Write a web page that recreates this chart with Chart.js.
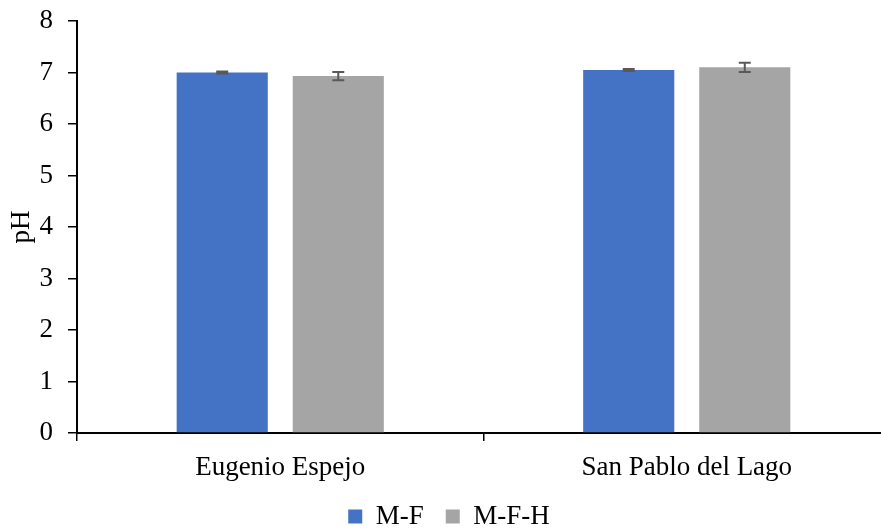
<!DOCTYPE html>
<html>
<head>
<meta charset="utf-8">
<script src="https://cdn.jsdelivr.net/npm/chart.js@4/dist/chart.umd.min.js"></script>
<style>
  html, body { margin: 0; padding: 0; background: #ffffff; overflow: hidden; }
  #wrap { width: 881px; height: 528px; overflow: hidden; position: relative; }
  #chart { position: absolute; left: 0; top: 0; }
</style>
</head>
<body>
<div id="wrap"><canvas id="chart" width="905" height="540"></canvas></div>
<script>
// Sites sampled and mean pH per treatment, with standard error
const sites = ["Eugenio Espejo", "San Pablo del Lago"];
const seriesNames = ["M-F", "M-F-H"];
const phMF = [7.00, 7.05];
const phMFH = [6.93, 7.10];
const errMF = [0.02, 0.02];
const errMFH = [0.08, 0.09];
const yTicks = [0, 1, 2, 3, 4, 5, 6, 7, 8];

const FONT = "'Liberation Serif', 'Times New Roman', serif";
const FSIZE = 27;

// Draws symmetric error bars on top of each bar using the chart's own scales
const errorBars = {
  id: "errorBars",
  afterDatasetsDraw(chart) {
    const ctx = chart.ctx;
    const yScale = chart.scales.y;
    chart.data.datasets.forEach((ds, di) => {
      const meta = chart.getDatasetMeta(di);
      meta.data.forEach((bar, i) => {
        const v = ds.data[i];
        const e = ds.errors[i];
        const x = bar.x;
        const yTop = yScale.getPixelForValue(v + e);
        const yBot = yScale.getPixelForValue(v - e);
        const cap = 6;
        ctx.save();
        ctx.strokeStyle = "#595959";
        ctx.lineWidth = 2;
        ctx.beginPath();
        ctx.moveTo(x, yTop); ctx.lineTo(x, yBot);
        ctx.moveTo(x - cap, yTop); ctx.lineTo(x + cap, yTop);
        ctx.moveTo(x - cap, yBot); ctx.lineTo(x + cap, yBot);
        ctx.stroke();
        ctx.restore();
      });
    });
  }
};

new Chart(document.getElementById("chart"), {
  type: "bar",
  data: {
    labels: sites,
    datasets: [
      { label: seriesNames[0], data: phMF, errors: errMF, backgroundColor: "#4472C4" },
      { label: seriesNames[1], data: phMFH, errors: errMFH, backgroundColor: "#A5A5A5" }
    ]
  },
  options: {
    responsive: false,
    animation: false,
    devicePixelRatio: 1,
    layout: { padding: { top: 21, right: 15, left: 8, bottom: 0 } },
    datasets: { bar: { categoryPercentage: 0.571, barPercentage: 0.785 } },
    plugins: {
      legend: {
        position: "bottom",
        labels: {
          font: { family: FONT, size: FSIZE, lineHeight: 1 },
          color: "#000000",
          boxWidth: 14,
          boxHeight: 14,
          padding: 22
        }
      },
      tooltip: { enabled: false }
    },
    scales: {
      x: {
        grid: { display: true, drawOnChartArea: false, drawTicks: true, tickLength: 8, color: "#000000", lineWidth: 1.5 },
        border: { display: true, color: "#000000", width: 2 },
        ticks: { font: { family: FONT, size: FSIZE, lineHeight: 1 }, color: "#000000", padding: 13 },
        afterFit(s) { s.height = 48; s.paddingLeft = 0; s.paddingRight = 0; }
      },
      y: {
        min: 0,
        max: 8,
        afterBuildTicks(s) { s.ticks = yTicks.map(v => ({ value: v })); },
        grid: { drawOnChartArea: false, drawTicks: true, tickLength: 9, color: "#000000", lineWidth: 1.5 },
        border: { display: true, color: "#000000", width: 2 },
        ticks: { font: { family: FONT, size: FSIZE, lineHeight: 1 }, color: "#000000", padding: 15 },
        title: { display: true, text: "pH", font: { family: FONT, size: FSIZE, lineHeight: 1 }, color: "#000000", padding: { top: 0, bottom: 0 } },
        afterFit(s) { s.width = 69; s.paddingTop = 0; s.paddingBottom = 0; }
      }
    }
  },
  plugins: [errorBars]
});
</script>
</body>
</html>
